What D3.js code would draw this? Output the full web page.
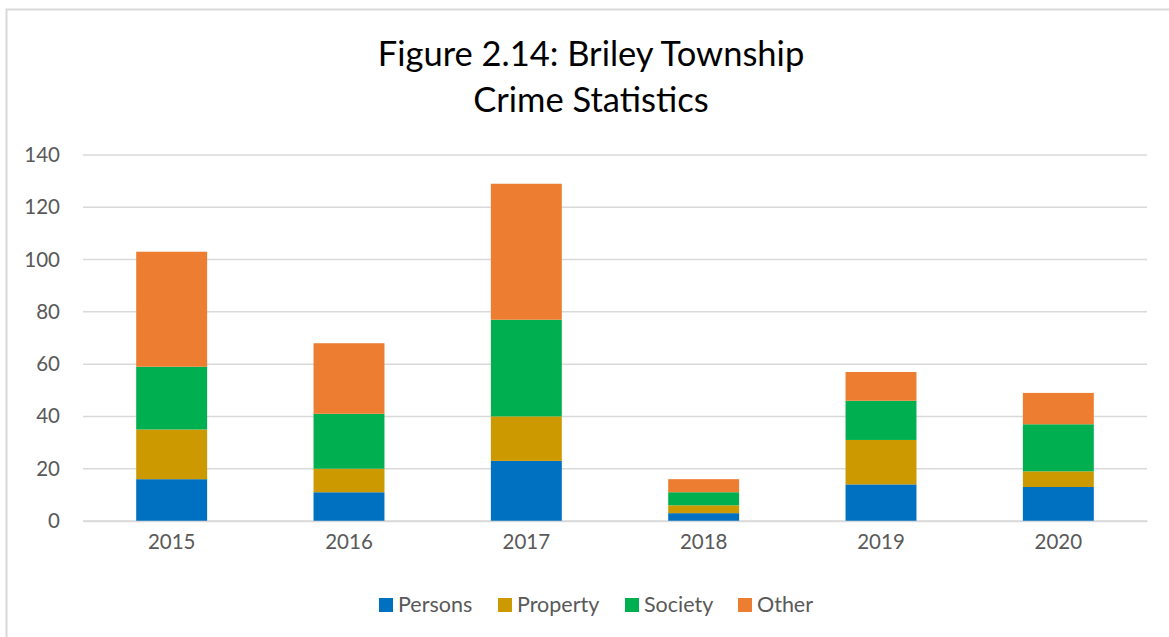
<!DOCTYPE html>
<html>
<head>
<meta charset="utf-8">
<script src="https://cdn.jsdelivr.net/npm/d3@7"></script>
<style>
  html, body { margin: 0; padding: 0; background: #fff; }
  svg { display: block; }
</style>
</head>
<body>
<div id="chart"></div>
<script>
const years = ['2015', '2016', '2017', '2018', '2019', '2020'];
const seriesNames = ['Persons', 'Property', 'Society', 'Other'];
const colors = ['#0070C0', '#CC9900', '#00B050', '#ED7D31'];
const persons = [16, 11, 23, 3, 14, 13];
const property = [19, 9, 17, 3, 17, 6];
const society = [24, 21, 37, 5, 15, 18];
const other = [44, 27, 52, 5, 11, 12];
const yTicks = [0, 20, 40, 60, 80, 100, 120, 140];

const W = 1169, H = 637;
const font = "Lato, 'Open Sans', sans-serif";
const margin = { top: 155, right: 22, bottom: 116, left: 83 };
const w = W - margin.left - margin.right;
const h = H - margin.top - margin.bottom;

const svg = d3.select('#chart').append('svg')
  .attr('width', W).attr('height', H);

// outer chart border (runs off right/bottom)
svg.append('rect')
  .attr('x', 6.5).attr('y', 9.5)
  .attr('width', W + 10).attr('height', H + 10)
  .attr('fill', 'none').attr('stroke', '#d9d9d9').attr('stroke-width', 2);

// Title
const title = svg.append('text')
  .attr('text-anchor', 'middle')
  .attr('font-family', font).attr('font-size', '34.5px').attr('fill', '#000');
title.append('tspan').attr('x', 591).attr('y', 66).text('Figure 2.14: Briley Township');
title.append('tspan').attr('x', 591).attr('y', 112).text('Crime Statistics');

const g = svg.append('g').attr('transform', `translate(${margin.left},${margin.top})`);

const x = d3.scaleBand().domain(years).range([0, w]).paddingInner(0.6).paddingOuter(0.3);
const y = d3.scaleLinear().domain([0, 140]).range([h, 0]);

// Grid lines
g.append('g')
  .selectAll('line')
  .data(yTicks)
  .enter().append('line')
  .attr('x1', 0).attr('x2', w)
  .attr('y1', d => y(d)).attr('y2', d => y(d))
  .attr('stroke', '#d9d9d9').attr('stroke-width', 1.5);

// Y axis labels
const yAxis = g.append('g')
  .call(d3.axisLeft(y).tickValues(yTicks).tickSize(0).tickPadding(23));
yAxis.select('.domain').remove();
yAxis.selectAll('text')
  .attr('fill', '#595959').attr('font-family', font).attr('font-size', '20.5px');

// Stacked bars
const table = years.map((yr, i) => ({
  year: yr, Persons: persons[i], Property: property[i], Society: society[i], Other: other[i]
}));
const stack = d3.stack().keys(seriesNames)(table);

g.selectAll('g.series')
  .data(stack)
  .enter().append('g')
  .attr('class', 'series')
  .attr('fill', (d, i) => colors[i])
  .selectAll('rect')
  .data(d => d)
  .enter().append('rect')
  .attr('x', d => x(d.data.year))
  .attr('width', x.bandwidth())
  .attr('y', d => y(d[1]))
  .attr('height', d => y(d[0]) - y(d[1]));

// X axis
const xAxis = g.append('g')
  .attr('transform', `translate(0,${h})`)
  .call(d3.axisBottom(x).tickSize(0).tickPadding(13));
xAxis.select('.domain').attr('stroke', '#d9d9d9').attr('stroke-width', 1.5);
xAxis.selectAll('text')
  .attr('fill', '#595959').attr('font-family', font).attr('font-size', '20.5px');

// Legend
const legendItems = [
  { name: 'Persons', x: 379 },
  { name: 'Property', x: 498 },
  { name: 'Society', x: 625 },
  { name: 'Other', x: 738 }
];
const legend = svg.append('g');
legendItems.forEach(item => {
  legend.append('rect')
    .attr('x', item.x).attr('y', 598)
    .attr('width', 14).attr('height', 14)
    .attr('fill', colors[seriesNames.indexOf(item.name)]);
  legend.append('text')
    .attr('x', item.x + 19).attr('y', 612)
    .attr('font-family', font).attr('font-size', '21.5px')
    .attr('fill', '#595959')
    .text(item.name);
});
</script>
</body>
</html>
